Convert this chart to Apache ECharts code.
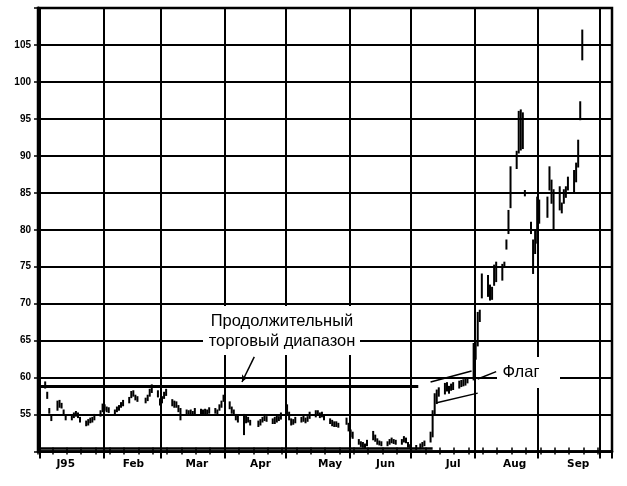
<!DOCTYPE html>
<html><head><meta charset="utf-8">
<script src="https://cdn.jsdelivr.net/npm/echarts@6/dist/echarts.min.js"></script>
<style>html,body{margin:0;padding:0;background:#fff}#c{width:627px;height:486px}</style>
</head><body><div id="c"></div>
<script>
// ---- data (category index = day number, 0 = 31 Dec 1994) ----
const monthLabels = ['J95','Feb','Mar','Apr','May','Jun','Jul','Aug','Sep'];
const labelDays   = [13, 46, 77, 108, 142, 169, 202, 232, 263];

const barDays = [
  3,4,5,6,9,10,11,12,13,16,17,18,19,20,23,24,25,26,27,30,31,
  32,33,34,37,38,39,40,41,44,45,46,47,48,52,53,54,55,58,59,
  60,61,62,65,66,67,68,69,72,73,74,75,76,79,80,81,82,83,86,87,88,89,90,
  93,94,95,96,97,100,101,102,103,107,108,109,110,111,114,115,116,117,118,
  121,122,123,124,125,128,129,130,131,132,135,136,137,138,139,142,143,144,145,146,150,151,
  152,153,156,157,158,159,160,163,164,165,166,167,170,171,172,173,174,177,178,179,180,181,
  184,186,187,188,191,192,193,194,195,198,199,200,201,202,205,206,207,208,209,212,
  213,214,215,216,219,220,221,222,223,226,227,228,229,230,233,234,235,236,237,240,241,242,243,
  244,248,249,250,251,254,255,256,257,258,261,262,263,264,265
];
const barLows = [
  58.6,57.2,55.2,54.2,55.6,56.0,55.9,55.0,54.3,54.3,54.6,54.8,54.6,54.0,53.5,53.6,53.9,54.0,54.3,54.8,55.4,
  55.6,55.4,55.3,55.0,55.4,55.6,56.0,56.2,56.6,57.3,57.5,57.0,56.8,56.6,56.9,57.5,58.0,57.4,56.3,
  56.6,57.2,57.6,56.2,56.0,56.0,55.4,54.3,55.0,54.9,55.0,54.9,55.1,55.1,55.0,55.1,55.0,55.2,55.2,55.0,55.6,56.0,56.8,
  55.8,55.2,54.9,54.3,54.0,52.3,53.9,54.0,53.6,53.4,53.6,54.0,54.2,54.1,53.8,53.8,54.0,54.2,54.4,
  55.0,54.3,53.6,53.7,53.9,54.0,54.1,53.9,54.1,54.5,54.7,54.9,54.6,54.7,54.3,53.8,53.5,53.4,53.4,53.3,53.7,52.8,
  52.0,51.8,51.0,50.7,50.6,50.5,50.8,51.6,51.4,51.0,50.9,50.8,50.8,51.0,51.2,51.1,51.0,51.0,51.3,51.2,50.6,50.4,
  50.3,50.4,50.6,50.8,51.3,52.0,55.0,56.5,57.5,57.8,58.2,57.9,58.3,58.4,58.6,58.8,58.9,59.0,59.3,59.7,
  62.5,64.3,67.6,70.8,71.0,70.5,70.6,72.5,73.0,73.2,75.0,77.4,79.5,83.0,88.3,90.4,90.8,91.0,84.6,79.5,74.1,76.8,78.2,
  80.9,81.7,85.4,83.6,80.0,82.7,82.3,83.6,84.4,85.4,85.0,86.5,88.5,94.9,103.0
];
const barHighs = [
  59.4,58.0,55.8,54.8,56.8,56.9,56.5,55.6,54.9,54.9,55.2,55.4,55.2,54.6,54.1,54.3,54.5,54.6,55.0,55.5,56.4,
  56.3,56.0,55.9,55.6,56.0,56.2,56.6,56.9,57.3,58.1,58.2,57.6,57.4,57.2,57.6,58.4,59.0,58.2,57.1,
  57.4,58.0,58.4,57.0,56.8,56.7,56.2,55.8,55.6,55.5,55.6,55.4,55.8,55.7,55.6,55.7,55.6,55.9,55.8,55.6,56.3,56.8,57.6,
  56.7,56.0,55.6,55.0,54.8,55.0,54.8,54.6,54.2,54.1,54.3,54.6,55.0,54.7,54.4,54.6,54.8,54.7,55.2,
  56.3,55.3,54.4,54.3,54.6,54.6,54.8,54.5,54.7,55.3,55.5,55.5,55.2,55.3,54.9,54.4,54.2,54.0,54.0,53.8,54.5,53.8,
  52.9,52.6,51.6,51.3,51.2,51.0,51.5,52.7,52.2,51.7,51.4,51.3,51.3,51.6,51.8,51.6,51.5,51.6,52.0,51.8,51.2,50.9,
  50.8,51.0,51.2,51.4,52.6,55.5,57.8,58.3,58.6,59.2,59.3,58.8,59.1,59.3,59.5,59.6,59.7,59.8,60.0,64.6,
  65.0,68.8,69.1,74.0,73.8,72.5,72.2,75.2,75.6,75.3,75.6,78.6,82.6,88.5,90.6,96.0,96.2,95.8,85.3,81.0,78.6,80.0,84.4,
  84.0,84.4,88.5,86.7,85.4,85.8,83.6,85.4,85.8,87.1,88.0,89.0,92.1,97.3,107.0
];

// annotations (day index, price)
const rangeLevels = [58.8, 50.45];
const rangeEndDays = [185, 192];
const flagUpper = [[191, 59.4], [211, 60.9]];
const flagLower = [[194, 56.6], [214, 57.9]];
const flagLeader = [[214, 59.8], [223, 60.8]];
const rangeArrow = [[105, 62.8], [99, 59.4]];
const rangeText = 'Продолжительный\nторговый диапазон';
const flagText = 'Флаг';

// ---- build axis categories (calendar days) ----
const nDays = 280;
const dates = [];
for (let i = 0; i < nDays; i++) dates.push(new Date(1994, 11, 31 + i));
const cats = dates.map(d => (d.getMonth() + 1) + '/' + d.getDate() + '/' + d.getFullYear());
const labelMap = {};
labelDays.forEach((d, i) => { labelMap[d] = monthLabels[i]; });
const bars = barDays.map((d, i) => [d, barLows[i], barHighs[i]]);

const FONT = '"Liberation Sans", Arial, sans-serif';
const thin = { width: 1.5, color: '#000', type: 'solid' };
const mlData = [];
rangeLevels.forEach((v, i) => {
  mlData.push([{ coord: [0, v], lineStyle: { width: i === 0 ? 3 : 2.5, color: '#000', type: 'solid' } }, { coord: [rangeEndDays[i], v] }]);
});
[flagUpper, flagLower, flagLeader].forEach(p => {
  mlData.push([{ coord: p[0], lineStyle: thin }, { coord: p[1] }]);
});
mlData.push([{ coord: rangeArrow[0], lineStyle: thin, symbol: 'none' }, { coord: rangeArrow[1], symbol: 'arrow', symbolSize: [5, 7] }]);

const isSat = (i) => dates[i].getDay() === 6 && dates[i].getDate() !== 1;
const isFirst = (i) => dates[i].getDate() === 1;

const chart = echarts.init(document.getElementById('c'), null, { renderer: 'canvas' });
chart.setOption({
  animation: false,
  backgroundColor: '#fff',
  grid: { left: 38, right: 15, top: 8, bottom: 34.5, show: true, borderColor: '#000', borderWidth: 2.5 },
  xAxis: [{
    type: 'category', data: cats, boundaryGap: true,
    axisLine: { show: true, lineStyle: { color: '#000', width: 2.5 } },
    axisTick: { show: true, interval: isFirst, length: 7, lineStyle: { color: '#000', width: 2 } },
    splitLine: { show: true, interval: isFirst, lineStyle: { color: '#000', width: 2 } },
    axisLabel: {
      show: true, interval: (i) => labelMap[i] !== undefined, formatter: (v, i) => labelMap[i] || '',
      color: '#000', fontFamily: '"DejaVu Sans", sans-serif', fontWeight: 'bold', fontSize: 10.5, margin: 7
    }
  }, {
    type: 'category', data: cats, boundaryGap: true, position: 'bottom',
    axisLine: { show: false },
    axisTick: { show: true, interval: isSat, length: 3, lineStyle: { color: '#000', width: 1.5 } },
    splitLine: { show: false }, axisLabel: { show: false }
  }, {
    type: 'category', data: cats, boundaryGap: true, position: 'bottom',
    axisLine: { show: false },
    axisTick: { show: true, inside: true, interval: isSat, length: 4, lineStyle: { color: '#000', width: 1.5 } },
    splitLine: { show: false }, axisLabel: { show: false }
  }],
  yAxis: {
    type: 'value', min: 50, max: 110, interval: 5,
    axisLine: { show: true, lineStyle: { color: '#000', width: 3 } },
    axisTick: { show: true, length: 4, lineStyle: { color: '#000', width: 1.5 } },
    splitLine: { show: true, lineStyle: { color: '#000', width: 2 } },
    axisLabel: {
      formatter: v => (v === 50 || v === 110) ? '' : String(v),
      color: '#000', fontFamily: FONT, fontWeight: 'bold', fontSize: 10, margin: 7
    }
  },
  series: [{
    type: 'custom', xAxisIndex: 0, yAxisIndex: 0, data: bars,
    encode: { x: 0, y: [1, 2] },
    renderItem: function (params, api) {
      const x = api.value(0);
      const p1 = api.coord([x, api.value(1)]);
      const p2 = api.coord([x, api.value(2)]);
      return { type: 'line', shape: { x1: p1[0], y1: p1[1] + 0.6, x2: p2[0], y2: p2[1] - 0.6 }, style: { stroke: '#000', lineWidth: 2 } };
    },
    markLine: { silent: true, symbol: 'none', label: { show: false }, data: mlData, animation: false }
  }],
  graphic: [
    { type: 'rect', z: 100, shape: { x: 203, y: 306, width: 157, height: 49 }, style: { fill: '#fff' } },
    { type: 'text', z: 101, x: 282, y: 331, style: { text: rangeText, font: '16.5px ' + FONT, fill: '#000', textAlign: 'center', textVerticalAlign: 'middle', lineHeight: 20 } },
    { type: 'rect', z: 100, shape: { x: 497, y: 357, width: 63, height: 31 }, style: { fill: '#fff' } },
    { type: 'text', z: 101, x: 521, y: 372, style: { text: flagText, font: '16.5px ' + FONT, fill: '#000', textAlign: 'center', textVerticalAlign: 'middle' } }
  ]
});
</script>
</body></html>
